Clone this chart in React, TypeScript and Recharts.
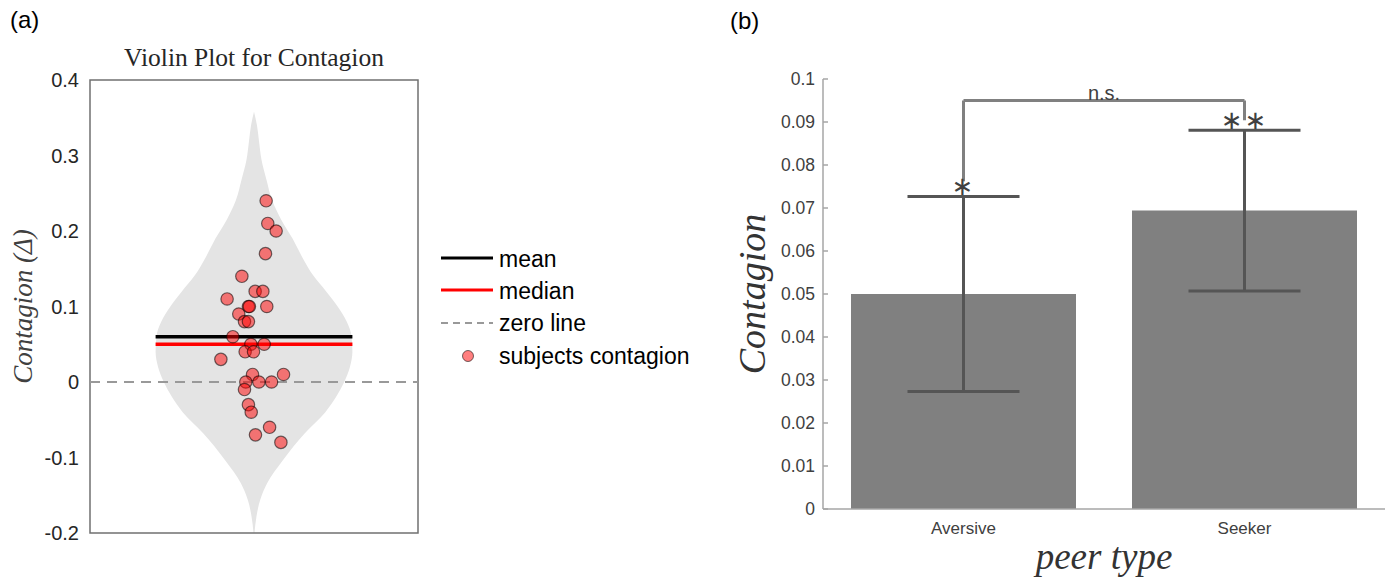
import React from 'react';
import {
  ComposedChart,
  Area,
  Scatter,
  XAxis,
  YAxis,
  ReferenceLine,
  ReferenceArea,
  ReferenceDot,
  Legend,
  BarChart,
  Bar,
  ErrorBar,
} from 'recharts';

// ---- panel (a): violin ----
// kernel density outline: contagion value and half width (x axis runs -1..1)
const violinValues = [0.358, 0.34, 0.32, 0.294, 0.268, 0.241, 0.215, 0.19, 0.165, 0.14, 0.12, 0.1, 0.08, 0.06, 0.04, 0.02, 0.0, -0.02, -0.04, -0.068, -0.104, -0.134, -0.156, -0.178, -0.2];
const violinHalfWidths = [0.0, 0.018, 0.03, 0.046, 0.076, 0.11, 0.166, 0.235, 0.295, 0.365, 0.44, 0.51, 0.565, 0.595, 0.6, 0.585, 0.55, 0.5, 0.435, 0.31, 0.175, 0.08, 0.038, 0.015, 0.003];

// individual subjects (value, horizontal jitter)
const subjectValues = [0.24, 0.21, 0.2, 0.17, 0.14, 0.11, 0.12, 0.12, 0.1, 0.1, 0.1, 0.09, 0.08, 0.08, 0.06, 0.05, 0.05, 0.03, 0.04, 0.04, 0.01, 0.01, 0.0, 0.0, 0.0, -0.01, -0.03, -0.04, -0.06, -0.07, -0.08];
const subjectJitter = [0.074, 0.084, 0.135, 0.07, -0.074, -0.164, 0.007, 0.054, -0.034, -0.028, 0.078, -0.093, -0.058, -0.034, -0.129, -0.019, 0.062, -0.202, -0.054, -0.003, -0.009, 0.18, -0.05, 0.03, 0.107, -0.058, -0.034, -0.017, 0.095, 0.009, 0.164];

const meanValue = 0.06;
const medianValue = 0.05;
const violinTicks = [-0.2, -0.1, 0, 0.1, 0.2, 0.3, 0.4];

// ---- panel (b): bars ----
const peerTypes = ['Aversive', 'Seeker'];
const contagionMeans = [0.05, 0.0694];
const contagionErrors = [0.0227, 0.0187];
const significance = ['∗', '∗∗'];
const bracketY = 0.095;
const barTicks = [0, 0.01, 0.02, 0.03, 0.04, 0.05, 0.06, 0.07, 0.08, 0.09, 0.1];

const violinData = violinValues.map((v, i) => ({ v, range: [-violinHalfWidths[i], violinHalfWidths[i]] }));
const subjectData = subjectValues.map((v, i) => ({ v, x: subjectJitter[i] }));
const violinEdge = Math.max(...violinHalfWidths);

const barData = peerTypes.map((peer, i) => ({ peer, mean: contagionMeans[i], err: contagionErrors[i] }));

const SANS = '"Liberation Sans", Arial, sans-serif';
const SERIF = '"Liberation Serif", "Times New Roman", serif';

const SubjectDot = (props: any) => (
  <circle
    cx={props.cx}
    cy={props.cy}
    r={6.2}
    fill="rgb(255,0,0)"
    fillOpacity={0.5}
    stroke="#000"
    strokeOpacity={0.55}
    strokeWidth={1.2}
  />
);

const renderViolinLegend = () => {
  const row = { display: 'flex', alignItems: 'center', height: 32.3 };
  const text = { fontFamily: SANS, fontSize: 23, color: '#000', marginLeft: 6, whiteSpace: 'nowrap' as const };
  return (
    <div>
      <div style={row}>
        <svg width={52} height={32}><line x1={0} x2={52} y1={15} y2={15} stroke="#000" strokeWidth={3} /></svg>
        <span style={text}>mean</span>
      </div>
      <div style={row}>
        <svg width={52} height={32}><line x1={0} x2={52} y1={15} y2={15} stroke="#ff0000" strokeWidth={3} /></svg>
        <span style={text}>median</span>
      </div>
      <div style={row}>
        <svg width={52} height={32}><line x1={0} x2={52} y1={15} y2={15} stroke="#999" strokeWidth={2} strokeDasharray="7 5" /></svg>
        <span style={text}>zero line</span>
      </div>
      <div style={row}>
        <svg width={52} height={32}>
          <circle cx={27} cy={16} r={5.5} fill="rgb(255,0,0)" fillOpacity={0.5} stroke="#000" strokeOpacity={0.55} />
        </svg>
        <span style={text}>subjects contagion</span>
      </div>
    </div>
  );
};

const ViolinPanel = () => (
  <ComposedChart
    width={720}
    height={578}
    layout="vertical"
    margin={{ top: 80, right: 302, bottom: 45, left: 0 }}
  >
    <XAxis type="number" dataKey="x" domain={[-1, 1]} allowDataOverflow hide />
    <YAxis
      type="number"
      dataKey="v"
      domain={[-0.2, 0.4]}
      ticks={violinTicks}
      reversed
      allowDataOverflow
      width={90}
      axisLine={false}
      tickLine={false}
      tickSize={0}
      tickMargin={11}
      tick={{ fontFamily: SANS, fontSize: 20, fill: '#262626' }}
      tickFormatter={(v: number) => String(Math.round(v * 10) / 10)}
      label={{
        value: 'Contagion (Δ)',
        angle: -90,
        position: 'insideLeft',
        offset: 22,
        style: { textAnchor: 'middle', fontFamily: SERIF, fontStyle: 'italic', fontSize: 27, fill: '#404040' },
      }}
    />
    <Area
      data={violinData}
      dataKey="range"
      type="monotone"
      fill="#e4e4e4"
      fillOpacity={1}
      stroke="none"
      isAnimationActive={false}
    />
    <ReferenceLine y={0} stroke="#999" strokeWidth={2} strokeDasharray="10 7" />
    <ReferenceLine
      segment={[{ x: -violinEdge, y: meanValue }, { x: violinEdge, y: meanValue }]}
      stroke="#000"
      strokeWidth={3.5}
    />
    <ReferenceLine
      segment={[{ x: -violinEdge, y: medianValue }, { x: violinEdge, y: medianValue }]}
      stroke="#ff0000"
      strokeWidth={3.5}
    />
    <Scatter data={subjectData} dataKey="v" shape={SubjectDot} isAnimationActive={false} />
    <ReferenceArea x1={-1} x2={1} y1={-0.2} y2={0.4} fill="none" stroke="#707070" strokeWidth={1.5} />
    <Legend
      content={renderViolinLegend}
      layout="vertical"
      align="center"
      verticalAlign="middle"
      wrapperStyle={{ position: 'absolute', left: 441, top: 243, width: 279 }}
    />
  </ComposedChart>
);

const BarPanel = () => (
  <BarChart
    width={689}
    height={578}
    data={barData}
    margin={{ top: 79, right: 4, bottom: 0, left: 0 }}
    barCategoryGap={28}
  >
    <XAxis
      dataKey="peer"
      height={69}
      tickLine={false}
      tickSize={0}
      tickMargin={13}
      axisLine={{ stroke: '#a6a6a6', strokeWidth: 1.5 }}
      tick={{ fontFamily: SANS, fontSize: 17, fill: '#404040' }}
      label={{
        value: 'peer type',
        position: 'insideBottom',
        offset: 9,
        style: { fontFamily: SERIF, fontStyle: 'italic', fontSize: 37, fill: '#333' },
      }}
    />
    <YAxis
      type="number"
      domain={[0, 0.1]}
      ticks={barTicks}
      width={123}
      tickSize={-5}
      tickMargin={13}
      axisLine={{ stroke: '#a6a6a6', strokeWidth: 1.5 }}
      tickLine={{ stroke: '#a6a6a6', strokeWidth: 1.5 }}
      tick={{ fontFamily: SANS, fontSize: 17.5, fill: '#404040' }}
      tickFormatter={(v: number) => String(+v.toFixed(2))}
      label={{
        value: 'Contagion',
        angle: -90,
        position: 'insideLeft',
        offset: 52,
        style: { textAnchor: 'middle', fontFamily: SERIF, fontStyle: 'italic', fontSize: 38, fill: '#333' },
      }}
    />
    <Bar dataKey="mean" fill="#808080" isAnimationActive={false}>
      <ErrorBar dataKey="err" width={56} stroke="#555555" strokeWidth={3} />
    </Bar>
    <ReferenceLine
      segment={[{ x: peerTypes[0], y: contagionMeans[0] + contagionErrors[0] + 0.0035 }, { x: peerTypes[0], y: bracketY }]}
      stroke="#808080"
      strokeWidth={3}
    />
    <ReferenceLine
      segment={[{ x: peerTypes[0], y: bracketY }, { x: peerTypes[1], y: bracketY }]}
      stroke="#808080"
      strokeWidth={3}
      label={{ value: 'n.s.', position: 'top', offset: 1, style: { fontFamily: SANS, fontSize: 20, fill: '#404040' } }}
    />
    <ReferenceLine
      segment={[{ x: peerTypes[1], y: bracketY }, { x: peerTypes[1], y: contagionMeans[1] + contagionErrors[1] + 0.0023 }]}
      stroke="#808080"
      strokeWidth={3}
    />
    {peerTypes.map((p, i) => (
      <ReferenceDot
        key={p}
        x={p}
        y={contagionMeans[i] + contagionErrors[i] + 0.0025}
        r={0}
        fill="none"
        stroke="none"
        label={{ value: significance[i], position: 'center', style: { fontFamily: '"DejaVu Sans", sans-serif', fontSize: 26, fill: '#404040', letterSpacing: 2 } }}
      />
    ))}
  </BarChart>
);

const App = () => (
  <div style={{ position: 'absolute', left: 0, top: 0, width: 1389, height: 578, background: '#fff', overflow: 'hidden' }}>
    <div style={{ position: 'absolute', left: 10, top: 6, fontFamily: SANS, fontSize: 24, color: '#000' }}>(a)</div>
    <div style={{ position: 'absolute', left: 730, top: 7, fontFamily: SANS, fontSize: 24, color: '#000' }}>(b)</div>
    <div style={{ position: 'absolute', left: 90, width: 328, top: 43, textAlign: 'center', fontFamily: SERIF, fontSize: 25.5, color: '#262626' }}>
      Violin Plot for Contagion
    </div>
    <div style={{ position: 'absolute', left: 0, top: 0 }}>
      <ViolinPanel />
    </div>
    <div style={{ position: 'absolute', left: 700, top: 0 }}>
      <BarPanel />
    </div>
  </div>
);

export default App;
